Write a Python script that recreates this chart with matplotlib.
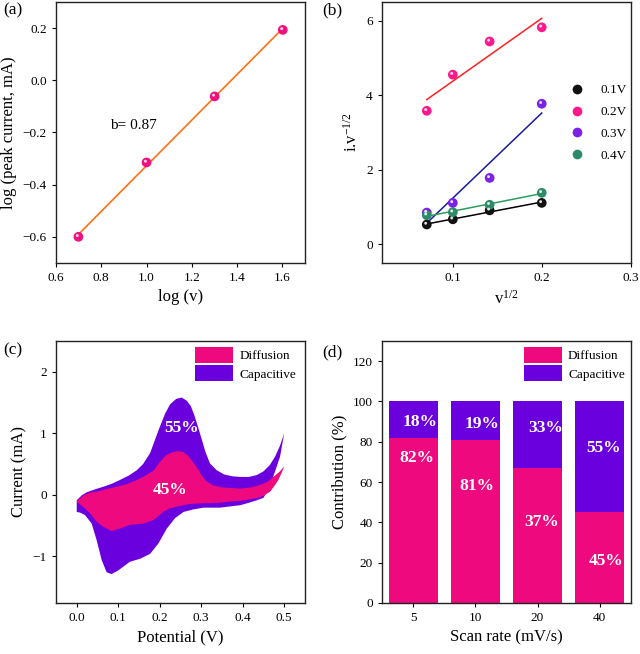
import numpy as np
import matplotlib.pyplot as plt
from matplotlib.patches import Patch
from matplotlib.lines import Line2D
from matplotlib import transforms

plt.rcParams['font.family'] = ['Liberation Serif', 'DejaVu Serif']
plt.rcParams['mathtext.fontset'] = 'custom'
plt.rcParams['mathtext.rm'] = 'Liberation Serif'
plt.rcParams['mathtext.it'] = 'Liberation Serif:italic'
plt.rcParams['xtick.labelsize'] = 9.5
plt.rcParams['ytick.labelsize'] = 9.5
plt.rcParams['axes.labelsize'] = 12
plt.rcParams['xtick.major.size'] = 3
plt.rcParams['ytick.major.size'] = 3

# (a) b-value fit
log_v = [0.699, 1.0, 1.301, 1.602]
log_ip = [-0.600, -0.315, -0.062, 0.193]

# (b) normalised current vs sqrt(scan rate)
sqrt_v = [0.0707, 0.1, 0.1414, 0.2]
pot_labels = ['0.1V', '0.2V', '0.3V', '0.4V']
i_01 = [0.53, 0.67, 0.91, 1.11]
i_02 = [3.58, 4.55, 5.44, 5.82]
i_03 = [0.85, 1.11, 1.78, 3.77]
i_04 = [0.78, 0.86, 1.06, 1.38]

# (c) CV loops at 40 mV/s, total (capacitive outline) and diffusion part
cv_total_v = [0.000, 0.012, 0.024, 0.045, 0.064, 0.085, 0.104, 0.125, 0.145, 0.160,
              0.177, 0.190, 0.200, 0.213, 0.225, 0.240, 0.253, 0.265, 0.275, 0.283,
              0.291, 0.300, 0.310, 0.321, 0.337, 0.355, 0.375, 0.394, 0.415, 0.434,
              0.450, 0.465, 0.478, 0.490, 0.500,
              0.490, 0.478, 0.466, 0.450, 0.434, 0.415, 0.394, 0.369, 0.345, 0.305,
              0.280, 0.257, 0.237, 0.217, 0.197, 0.177, 0.153, 0.128, 0.112, 0.100,
              0.084, 0.072, 0.060, 0.048, 0.036, 0.020, 0.008, 0.000]
cv_total_i = [-0.09, -0.01, 0.04, 0.09, 0.13, 0.18, 0.24, 0.31, 0.40, 0.50,
              0.68, 0.92, 1.10, 1.32, 1.47, 1.56, 1.58, 1.53, 1.44, 1.30,
              1.13, 0.93, 0.70, 0.51, 0.40, 0.33, 0.30, 0.29, 0.29, 0.32,
              0.38, 0.48, 0.62, 0.80, 1.00,
              0.62, 0.38, 0.15, -0.05, -0.09, -0.13, -0.17, -0.19, -0.21, -0.21,
              -0.24, -0.28, -0.38, -0.55, -0.79, -0.96, -1.04, -1.09, -1.17, -1.23,
              -1.29, -1.26, -1.06, -0.74, -0.47, -0.33, -0.29, -0.28]
cv_diff_v = [0.000, 0.016, 0.030, 0.048, 0.070, 0.096, 0.120, 0.145, 0.165, 0.185,
             0.200, 0.215, 0.230, 0.245, 0.258, 0.270, 0.280, 0.290, 0.300, 0.310,
             0.329, 0.350, 0.370, 0.394, 0.420, 0.442, 0.460, 0.474, 0.488, 0.500,
             0.494, 0.486, 0.476, 0.466, 0.452, 0.442, 0.420, 0.394, 0.369, 0.345,
             0.300, 0.273, 0.250, 0.225, 0.210, 0.200, 0.185, 0.160, 0.128, 0.104,
             0.084, 0.064, 0.048, 0.032, 0.016, 0.005, 0.000]
cv_diff_i = [-0.11, -0.01, 0.03, 0.05, 0.09, 0.13, 0.17, 0.24, 0.31, 0.39,
             0.53, 0.64, 0.69, 0.71, 0.69, 0.62, 0.53, 0.44, 0.33, 0.23,
             0.15, 0.12, 0.11, 0.10, 0.12, 0.16, 0.21, 0.29, 0.37, 0.46,
             0.36, 0.24, 0.14, 0.05, -0.01, -0.04, -0.07, -0.10, -0.11, -0.13,
             -0.14, -0.15, -0.18, -0.22, -0.27, -0.33, -0.41, -0.47, -0.49, -0.55,
             -0.59, -0.52, -0.44, -0.30, -0.20, -0.14, -0.11]

# (d) contribution ratios
scan_rates = ['5', '10', '20', '40']
diffusion = [82, 81, 67, 45]
capacitive = [18, 19, 33, 55]
diff_text = ['82%', '81%', '37%', '45%']
cap_text = ['18%', '19%', '33%', '55%']
diff_text_y = [72, 58, 40, 21]
cap_text_y = [90, 89, 87, 77]

PINK = '#EE0A7E'
PURPLE = '#6A00DD'

fig = plt.figure(figsize=(6.4, 6.54), dpi=100)
ax_a = fig.add_axes([0.0875, 0.598, 0.389, 0.399])
ax_b = fig.add_axes([0.5964, 0.598, 0.389, 0.399])
ax_c = fig.add_axes([0.0875, 0.078, 0.389, 0.4006])
ax_d = fig.add_axes([0.5964, 0.078, 0.389, 0.4006])


def ball(ax, x, y, color, size=7.0):
    # shaded sphere look: solid disc plus small white glint
    ax.scatter(x, y, s=size ** 2, color=color, edgecolors='none', zorder=3)
    glint = transforms.offset_copy(ax.transData, fig=fig, x=-0.8, y=0.9, units='points')
    ax.scatter(x, y, s=(size * 0.3) ** 2, color='white', alpha=0.85,
               edgecolors='none', zorder=4, transform=glint)


# ---- (a)
slope, icpt = np.polyfit(log_v, log_ip, 1)
xs = np.array([log_v[0], log_v[-1]])
ax_a.plot(xs, slope * xs + icpt, color='#FF7014', lw=1.2, zorder=2)
ball(ax_a, log_v, log_ip, '#F0107E')
ax_a.text(0.84, -0.175, f'b= {slope:.2f}', fontsize=11, va='center')
ax_a.set_xlim(0.6, 1.7)
ax_a.set_ylim(-0.7, 0.3)
ax_a.set_xticks(np.arange(0.6, 1.61, 0.2))
ax_a.set_yticks(np.arange(-0.6, 0.21, 0.2))
ax_a.xaxis.set_major_formatter('{x:.1f}')
ax_a.yaxis.set_major_formatter('{x:.1f}')
ax_a.set_xlabel('log (v)')
ax_a.set_ylabel('log (peak current, mA)')

# ---- (b)
series = [i_01, i_02, i_03, i_04]
ball_cols = ['#111111', '#FF1A8C', '#7A22E6', '#2E8B6A']
line_cols = ['#000000', '#FF2020', '#1A1A9E', '#2E9E5E']
xs = np.array([sqrt_v[0], sqrt_v[-1]])
for ys, bc, lc in zip(series, ball_cols, line_cols):
    k, c0 = np.polyfit(sqrt_v, ys, 1)
    ax_b.plot(xs, k * xs + c0, color=lc, lw=1.1, zorder=2)
    ball(ax_b, sqrt_v, ys, bc)
handles = [Line2D([], [], ls='none', marker='o', ms=7, color=c, markeredgewidth=0)
           for c in ball_cols]
ax_b.legend(handles, pot_labels, loc='upper left', bbox_to_anchor=(0.756, 0.685),
            frameon=False, fontsize=9.5, handlelength=1.0, handletextpad=1.3,
            labelspacing=0.72, borderpad=0, borderaxespad=0)
ax_b.set_xlim(0.02, 0.3)
ax_b.set_ylim(-0.5, 6.5)
ax_b.set_xticks([0.1, 0.2, 0.3])
ax_b.set_yticks([0, 2, 4, 6])
ax_b.set_xlabel('v$^{1/2}$')
ax_b.set_ylabel('i.v$^{-1/2}$')

# ---- (c)
ax_c.fill(cv_total_v, cv_total_i, color=PURPLE, lw=0, zorder=2)
ax_c.fill(cv_diff_v, cv_diff_i, color=PINK, lw=0, zorder=3)
ax_c.text(0.253, 1.08, '55%', color='white', fontsize=12.5, fontweight='bold',
          ha='center', va='center', zorder=4)
ax_c.text(0.226, 0.08, '45%', color='white', fontsize=12.5, fontweight='bold',
          ha='center', va='center', zorder=4)
ax_c.set_xlim(-0.05, 0.55)
ax_c.set_ylim(-1.76, 2.5)
ax_c.set_xticks(np.arange(0, 0.51, 0.1))
ax_c.set_yticks([-1, 0, 1, 2])
ax_c.xaxis.set_major_formatter('{x:.1f}')
ax_c.set_xlabel('Potential (V)')
ax_c.set_ylabel('Current (mA)')

leg_kw = dict(loc='upper left', frameon=False, fontsize=9.5, handlelength=2.9,
              handleheight=1.5, handletextpad=0.45, labelspacing=0.15,
              borderpad=0, borderaxespad=0)
patches = [Patch(facecolor=PINK, edgecolor='none'),
           Patch(facecolor=PURPLE, edgecolor='none')]
ax_c.legend(patches, ['Diffusion', 'Capacitive'], bbox_to_anchor=(0.558, 0.977), **leg_kw)

# ---- (d)
pos = np.arange(len(scan_rates))
ax_d.bar(pos, diffusion, width=0.8, color=PINK, zorder=2)
ax_d.bar(pos, capacitive, width=0.8, bottom=diffusion, color=PURPLE, zorder=2)
cap_dx = [0.11, 0.10, 0.13, 0.06]
diff_dx = [0.05, 0.03, 0.07, 0.10]
for p, t, y, dx in zip(pos, cap_text, cap_text_y, cap_dx):
    ax_d.text(p + dx, y, t, color='white', fontsize=12.5, fontweight='bold',
              ha='center', va='center', zorder=3)
for p, t, y, dx in zip(pos, diff_text, diff_text_y, diff_dx):
    ax_d.text(p + dx, y, t, color='white', fontsize=12.5, fontweight='bold',
              ha='center', va='center', zorder=3)
ax_d.set_xlim(-0.51, 3.5)
ax_d.set_ylim(0, 130)
ax_d.set_xticks(pos)
ax_d.set_xticklabels(scan_rates)
ax_d.set_yticks(np.arange(0, 121, 20))
ax_d.set_xlabel('Scan rate (mV/s)')
ax_d.set_ylabel('Contribution (%)')
ax_d.legend(patches, ['Diffusion', 'Capacitive'], bbox_to_anchor=(0.571, 0.977), **leg_kw)

for ax in (ax_a, ax_b, ax_c, ax_d):
    for sp in ax.spines.values():
        sp.set_linewidth(1.0)
        sp.set_color('#222222')

for x, y, lab in [(0.005, 0.996, '(a)'), (0.503, 0.996, '(b)'),
                  (0.005, 0.477, '(c)'), (0.503, 0.473, '(d)')]:
    fig.text(x, y, lab, fontsize=12.5, ha='left', va='top')

fig.savefig('out.png', dpi=100)
